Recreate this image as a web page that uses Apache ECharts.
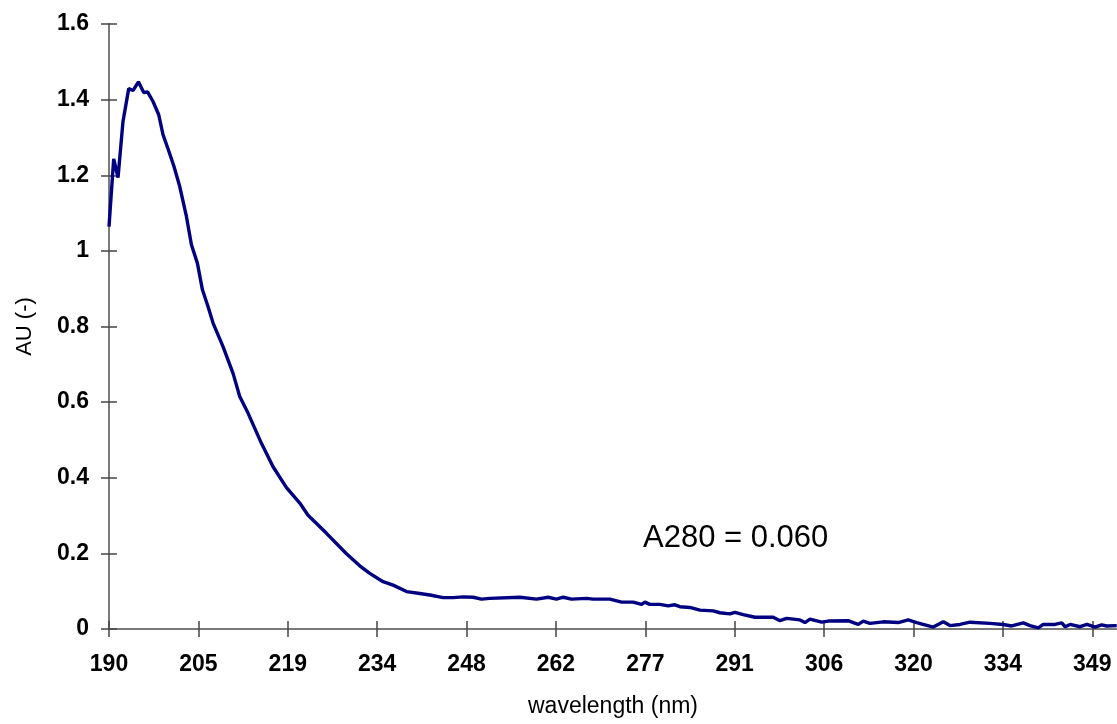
<!DOCTYPE html>
<html>
<head>
<meta charset="utf-8">
<title>AU spectrum</title>
<script src="https://cdn.jsdelivr.net/npm/echarts@6.0.0/dist/echarts.min.js"></script>
<style>
    html, body { margin: 0; padding: 0; background: #fff; }
    #chart { width: 1117px; height: 724px; }
</style>
</head>
<body>
<div id="chart"></div>
<script>
// wavelength (nm) of each point
const wavelengths = [
    190.00, 190.76, 191.46, 192.26, 193.19, 193.88, 194.76, 195.61, 196.26, 197.12,
    198.04, 198.74, 199.54, 200.51, 201.44, 202.52, 203.33, 204.30, 205.11, 206.01,
    206.83, 208.44, 210.06, 211.14, 212.48, 214.65, 216.53, 218.70, 220.85,
    222.19, 225.17, 228.40, 230.55, 232.17, 234.32, 235.94,
    238.11, 240.26, 241.88, 244.03, 245.65, 247.26, 248.88, 250.24, 251.58, 256.44,
    259.14, 261.01, 262.37, 263.44, 264.80, 267.22, 268.29, 270.99, 272.89, 274.76,
    276.12, 276.65, 277.46, 279.08, 280.42, 281.51, 282.32, 283.93, 285.55, 287.70,
    288.79, 290.40, 291.21, 292.56, 294.45, 297.41, 298.49, 299.58, 301.73, 302.54,
    303.35, 305.24, 306.31, 309.54, 310.35, 311.16, 311.97, 313.05, 315.20, 317.63,
    319.25, 320.60, 323.29, 324.91, 325.99, 327.61, 329.23, 332.46, 334.61, 335.97,
    337.85, 338.93, 340.27, 341.08, 342.98, 344.06, 344.62, 345.42, 347.04, 348.15,
    349.45, 350.52, 351.34, 352.96
];

// absorbance (AU) at those wavelengths
const absorbance = [
    1.064, 1.243, 1.194, 1.342, 1.429, 1.424, 1.447, 1.419, 1.420, 1.395,
    1.360, 1.307, 1.270, 1.223, 1.170, 1.091, 1.016, 0.967, 0.897, 0.853,
    0.809, 0.747, 0.676, 0.615, 0.571, 0.491, 0.429, 0.374, 0.333,
    0.301, 0.253, 0.199, 0.167, 0.147, 0.125, 0.116,
    0.099, 0.094, 0.090, 0.083, 0.083, 0.085, 0.084, 0.079, 0.081, 0.084,
    0.079, 0.084, 0.079, 0.084, 0.079, 0.081, 0.079, 0.079, 0.071, 0.071,
    0.065, 0.071, 0.065, 0.065, 0.061, 0.064, 0.059, 0.057, 0.050, 0.048,
    0.043, 0.040, 0.044, 0.038, 0.031, 0.031, 0.022, 0.028, 0.024, 0.017,
    0.026, 0.018, 0.021, 0.022, 0.017, 0.012, 0.021, 0.015, 0.019, 0.017,
    0.024, 0.017, 0.005, 0.019, 0.009, 0.012, 0.018, 0.015, 0.012, 0.008,
    0.016, 0.009, 0.003, 0.012, 0.012, 0.016, 0.006, 0.012, 0.006, 0.012,
    0.005, 0.011, 0.008, 0.009
];

// x tick marks sit on evenly spaced category points, labels show the rounded wavelength
const tickPositions = [190, 204.45, 218.91, 233.36, 247.82, 262.27, 276.73, 291.18, 305.64, 320.09, 334.55, 349];
const tickLabels = ['190', '205', '219', '234', '248', '262', '277', '291', '306', '320', '334', '349'];

const annotation = 'A280 = 0.060';

document.addEventListener('DOMContentLoaded', function () {
    const chart = echarts.init(document.getElementById('chart'), null, { renderer: 'canvas' });

    const font = '"Liberation Sans", Arial, sans-serif';
    const axisGray = '#7a7a7a';
    const tickGray = '#454545';

    function xLabel(value) {
        for (let i = 0; i < tickPositions.length; i++) {
            if (Math.abs(tickPositions[i] - value) < 0.01) return tickLabels[i];
        }
        return '';
    }

    const points = wavelengths.map((w, i) => [w, absorbance[i]]);

    const option = {
        animation: false,
        backgroundColor: '#fff',
        grid: { left: 109, right: 0, top: 24, bottom: 95 },
        xAxis: [{
            type: 'value',
            min: 190,
            max: 353,
            name: 'wavelength (nm)',
            nameLocation: 'middle',
            nameGap: 66,
            nameTextStyle: { fontFamily: font, fontSize: 23, color: '#000' },
            axisLine: { onZero: false, lineStyle: { color: axisGray, width: 2 } },
            axisTick: { show: true, length: 8, customValues: tickPositions, lineStyle: { color: tickGray, width: 1.5 } },
            axisLabel: {
                customValues: tickPositions,
                formatter: xLabel,
                margin: 24,
                fontFamily: font,
                fontSize: 23,
                fontWeight: 'bold',
                color: '#000'
            },
            splitLine: { show: false }
        }, {
            // second axis only to draw the upper half of the crossing ticks
            type: 'value',
            min: 190,
            max: 353,
            position: 'bottom',
            axisLine: { show: false, onZero: false },
            axisTick: { show: true, inside: true, length: 8, customValues: tickPositions, lineStyle: { color: tickGray, width: 1.5 } },
            axisLabel: { show: false },
            splitLine: { show: false }
        }],
        yAxis: [{
            type: 'value',
            min: 0,
            max: 1.6,
            interval: 0.2,
            name: 'AU (-)',
            nameLocation: 'middle',
            nameGap: 73,
            nameRotate: 90,
            nameTextStyle: { fontFamily: font, fontSize: 22, color: '#000' },
            axisLine: { show: true, onZero: false, lineStyle: { color: axisGray, width: 2 } },
            axisTick: { show: true, length: 8, lineStyle: { color: tickGray, width: 1.5 } },
            axisLabel: {
                margin: 20,
                fontFamily: font,
                fontSize: 23,
                fontWeight: 'bold',
                color: '#000'
            },
            splitLine: { show: false }
        }, {
            type: 'value',
            min: 0,
            max: 1.6,
            interval: 0.2,
            position: 'left',
            axisLine: { show: false, onZero: false },
            axisTick: { show: true, inside: true, length: 8, lineStyle: { color: tickGray, width: 1.5 } },
            axisLabel: { show: false },
            splitLine: { show: false }
        }],
        series: [{
            type: 'line',
            data: points,
            showSymbol: false,
            smooth: false,
            lineStyle: { color: '#000080', width: 3.4 },
            itemStyle: { color: '#000080' },
            z: 5
        }],
        graphic: [{
            type: 'text',
            left: 643,
            top: 523,
            style: {
                text: annotation,
                font: '31px ' + font,
                fill: '#000'
            }
        }]
    };

    chart.setOption(option);
});
</script>
</body>
</html>
